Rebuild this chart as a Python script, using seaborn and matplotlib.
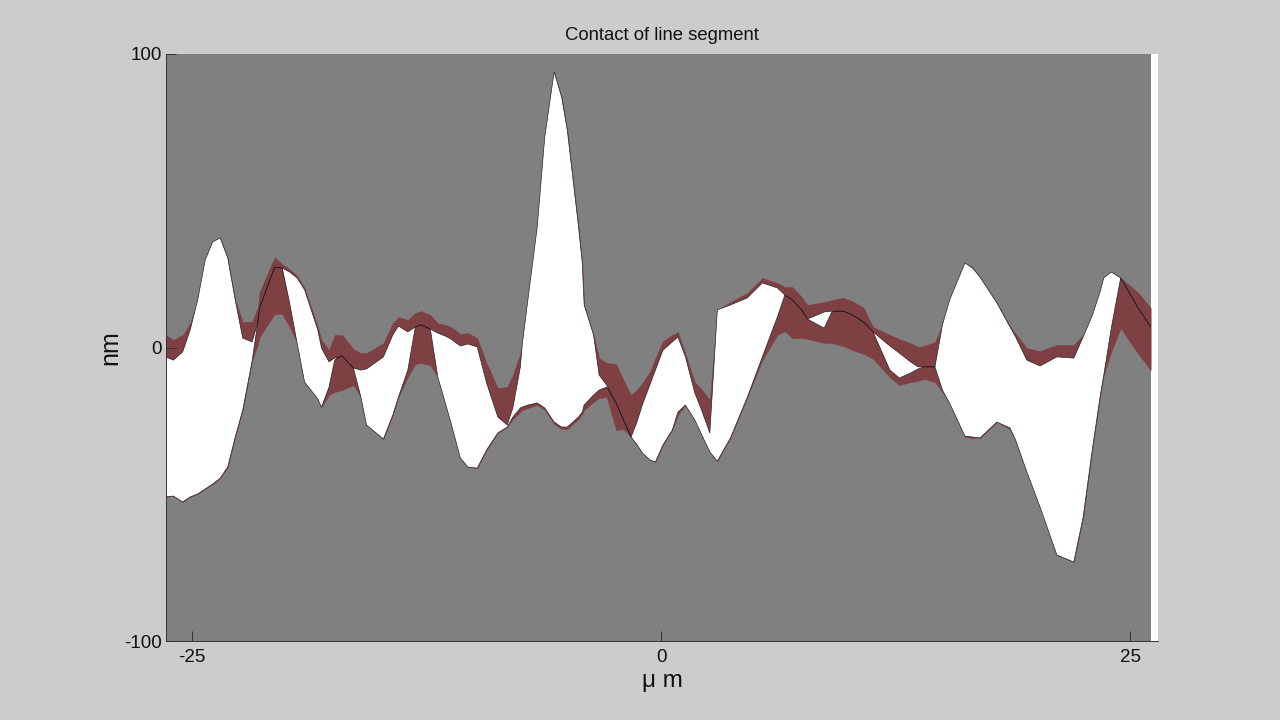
# Contact of line segment - two rough surfaces and the overlap between them
import numpy as np
import matplotlib.pyplot as plt
import seaborn as sns

# position along the segment, um
x = [-26.4, -26.0, -25.5, -25.1, -24.7, -24.3, -23.9, -23.5, -23.1, -22.7,
     -22.3, -21.8, -21.5, -21.4, -20.6, -20.2, -19.8, -19.4, -19.0, -18.3,
     -18.1, -17.7, -17.4, -17.0, -16.4, -16.0, -15.7, -14.8, -14.3, -14.0,
     -13.5, -13.1, -12.8, -12.3, -11.9, -11.5, -11.2, -10.7, -10.3, -9.8,
     -9.3, -8.7, -8.2, -7.9, -7.5, -7.4, -7.1, -6.6, -6.2, -5.7,
     -5.3, -5.0, -4.4, -4.2, -4.1, -3.6, -3.3, -2.9, -2.4, -2.0,
     -1.6, -1.3, -1.0, -0.6, -0.3, 0.1, 0.6, 0.9, 1.3, 1.8,
     2.1, 2.6, 3.0, 3.7, 4.6, 5.4, 6.2, 6.6, 7.0, 7.5,
     7.8, 8.7, 9.1, 9.7, 10.2, 10.8, 11.3, 12.2, 12.7, 13.3,
     13.7, 14.0, 14.6, 15.0, 15.4, 16.2, 16.6, 17.0, 17.9, 18.6,
     18.9, 19.5, 20.2, 21.1, 22.0, 22.5, 23.0, 23.4, 23.6, 24.0,
     24.5, 25.4, 26.1]

# upper edge of the maroon band, nm
cap = [4.3, 2.6, 4.3, 8.3, 16.2, 29.8, 36.0, 37.3, 30.5, 16.2,
       8.7, 8.7, 13.5, 18.9, 30.8, 28.4, 26.7, 24.4, 20.3, 7.0,
       2.6, -0.9, 4.3, 4.3, -0.5, -1.9, -1.9, 1.5, 8.3, 10.4,
       9.4, 11.8, 12.4, 11.1, 8.3, 7.7, 7.0, 4.6, 4.9, 3.2,
       -5.3, -13.8, -13.5, -9.4, -1.9, 1.5, 16.2, 41.1, 71.7, 93.9,
       85.3, 74.1, 41.1, 28.8, 14.5, 4.3, -3.6, -5.3, -5.6, -11.1,
       -16.2, -14.5, -12.1, -8.3, -3.6, 2.2, 4.3, 5.3, -2.2, -11.8,
       -13.8, -17.9, 12.8, 15.5, 18.6, 23.7, 22.0, 20.6, 20.6, 17.2,
       14.5, 15.5, 16.2, 16.9, 15.8, 13.5, 7.0, 4.3, 2.9, 1.5,
       0.2, 0.5, 1.9, 7.7, 16.5, 28.8, 27.4, 24.0, 15.2, 7.3,
       4.6, -0.2, -1.2, 0.9, 0.9, 4.3, 11.1, 18.9, 23.7, 25.7,
       23.7, 18.9, 13.5]

# upper surface, nm
top = [-3.2, -4.3, -1.5, 6.0, 16.2, 29.8, 36.0, 37.3, 30.5, 16.2,
       3.2, 1.9, 8.3, 13.5, 27.4, 27.1, 25.7, 23.7, 19.6, 6.0,
       -0.2, -4.9, -3.6, -2.9, -7.0, -7.7, -7.3, -3.2, 4.3, 7.3,
       5.3, 7.0, 7.7, 6.3, 4.9, 3.9, 2.9, 0.5, 1.2, 0.2,
       -12.1, -23.7, -26.4, -20.6, -6.6, 0.9, 16.2, 41.1, 71.7, 93.9,
       85.3, 74.1, 41.1, 28.8, 14.5, 4.3, -9.4, -12.8, -18.9, -24.7,
       -30.5, -25.7, -19.6, -12.8, -7.7, -0.9, 1.9, 3.6, -3.2, -15.5,
       -20.3, -29.1, 12.8, 14.5, 16.9, 22.0, 20.3, 17.9, 16.2, 12.8,
       9.7, 12.1, 12.4, 12.4, 11.1, 8.7, 5.3, 0.5, -1.9, -4.9,
       -6.6, -6.6, -6.6, 7.7, 16.5, 28.8, 27.1, 24.0, 15.2, 7.0,
       3.6, -4.3, -6.3, -3.2, -3.6, 3.6, 11.1, 18.9, 23.7, 25.7,
       23.7, 13.8, 7.0]

# lower surface, nm
bot = [-50.9, -50.6, -52.6, -50.9, -49.9, -48.2, -46.5, -44.5, -40.7, -30.5,
       -21.3, -4.6, 8.3, 14.1, 28.1, 27.8, 15.2, 1.5, -11.8, -17.5,
       -20.3, -13.5, -4.3, -0.9, -7.0, -16.9, -26.4, -31.2, -23.0, -16.9,
       -7.7, 7.0, 8.7, 6.3, -10.1, -18.9, -25.7, -37.6, -40.7, -41.1,
       -34.9, -29.1, -27.1, -23.7, -20.6, -20.3, -19.6, -18.9, -20.6, -25.4,
       -27.1, -27.1, -23.7, -22.0, -19.6, -16.2, -14.5, -13.5, -16.2, -21.3,
       -30.5, -32.9, -35.9, -38.3, -39.0, -33.2, -28.1, -22.0, -19.6, -24.7,
       -28.8, -35.6, -38.7, -30.8, -16.9, -3.2, 10.4, 17.9, 19.6, 14.5,
       9.7, 6.6, 12.1, 14.5, 12.8, 10.1, 5.3, -7.7, -10.4, -8.7,
       -7.3, -6.6, -6.6, -14.5, -19.2, -30.2, -30.5, -30.8, -25.4, -27.4,
       -31.5, -42.4, -54.3, -70.7, -73.1, -57.8, -34.2, -16.9, -9.4, 6.6,
       23.7, 16.2, 9.4]

# lower edge of the maroon band, nm
base = [-50.9, -50.6, -52.6, -50.9, -49.9, -48.2, -46.5, -44.5, -40.7, -30.5,
        -21.3, -4.6, 0.9, 3.6, 11.4, 11.4, 7.0, 1.5, -11.8, -17.5,
        -20.3, -16.2, -15.2, -14.5, -12.8, -16.9, -26.4, -31.2, -23.0, -16.9,
        -10.1, -5.6, -5.3, -6.0, -10.1, -18.9, -25.7, -37.6, -40.7, -41.1,
        -34.9, -29.1, -27.1, -24.4, -22.0, -21.3, -20.6, -19.6, -21.3, -26.1,
        -27.8, -27.8, -24.4, -22.7, -21.3, -18.6, -17.2, -16.9, -28.1, -27.8,
        -30.5, -32.9, -35.9, -38.3, -39.0, -33.2, -28.1, -23.0, -19.6, -24.7,
        -28.8, -35.6, -38.7, -30.8, -16.9, -4.3, 4.3, 5.6, 3.2, 3.2,
        2.9, 1.5, 1.5, 0.5, -0.9, -2.2, -3.9, -10.1, -12.8, -11.8,
        -11.4, -10.7, -11.8, -15.2, -19.2, -30.5, -30.8, -30.8, -25.4, -27.8,
        -31.5, -42.4, -54.3, -70.7, -73.1, -57.8, -34.2, -16.9, -9.4, -1.5,
        6.6, -1.9, -7.7]

x_ticks = [-25, 0, 25]
y_ticks = [-100, 0, 100]

sns.set_style("white")
plt.rcParams['font.family'] = ['Liberation Sans', 'DejaVu Sans']
plt.rcParams['axes.unicode_minus'] = False

df = {'x': np.array(x), 'cap': np.array(cap), 'top': np.array(top),
      'bot': np.array(bot), 'base': np.array(base)}

fig = plt.figure(figsize=(12.8, 7.2), dpi=100, facecolor='#cccccc')
ax = fig.add_axes([166 / 1280, 79 / 720, 992 / 1280, 587 / 720], facecolor='white')

# grey block stops short of the axis end, white strip stays on the right
ax.fill_between([x[0], x[-1]], -100, 100, color='#808080', lw=0, zorder=1)
ax.fill_between(df['x'], df['base'], df['cap'], color='#7f4044', lw=0.3, zorder=1.2)
ax.fill_between(df['x'], df['bot'], df['top'], where=df['top'] >= df['bot'],
                interpolate=True, color='white', lw=0, zorder=1.4)

# surfaces, the lower one is only seen where it stays under the upper one
sns.lineplot(x=df['x'], y=df['top'], color='#1a1a1a', lw=0.45, sort=False,
             errorbar=None, ax=ax, zorder=1.6)
sns.lineplot(x=df['x'], y=np.minimum(df['bot'], df['top']), color='#1a1a1a', lw=0.45,
             sort=False, errorbar=None, ax=ax, zorder=1.6)

ax.set_xlim(-26.39, 26.49)
ax.set_ylim(-100, 100)
ax.set_xticks(x_ticks)
ax.set_yticks(y_ticks)
ax.set_axisbelow(False)
ax.tick_params(direction='in', length=7, width=0.7, color='#333333', labelcolor='#111111',
               labelsize=13.5, left=True, bottom=True, pad=3)
ax.tick_params(axis='x', pad=6)
for side in ['top', 'right']:
    ax.spines[side].set_visible(False)
for side in ['left', 'bottom']:
    ax.spines[side].set_color('#333333')
    ax.spines[side].set_linewidth(0.7)

ax.set_title('Contact of line segment', fontsize=13.3, color='#111111', pad=10)
ax.set_xlabel('\u03bc m', fontsize=17.5, color='#111111', labelpad=3)
ax.set_ylabel('nm', fontsize=18, color='#111111', labelpad=1)

fig.savefig('out.png', dpi=100, facecolor=fig.get_facecolor())
